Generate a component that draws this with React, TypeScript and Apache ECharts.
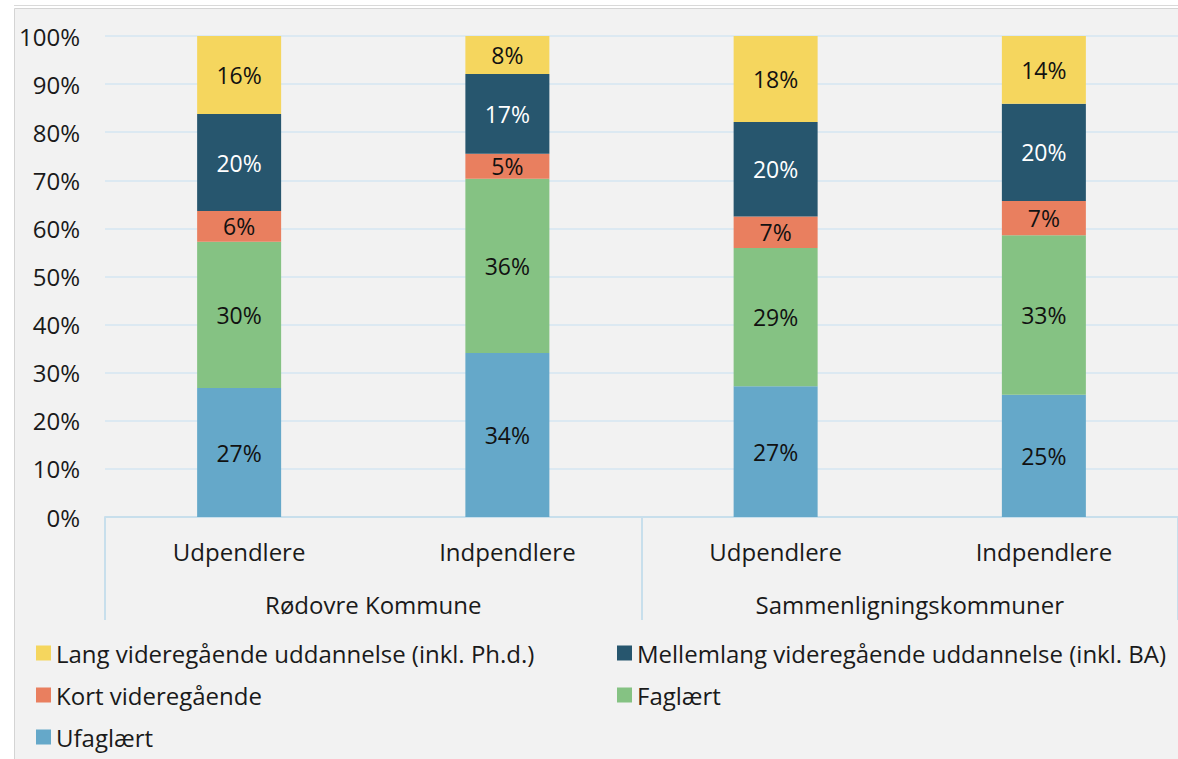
import React, { useEffect, useRef } from "react";
import * as echarts from "echarts";

const categories = ["Udpendlere", "Indpendlere", "Udpendlere", "Indpendlere"];
const groups = ["Rødovre Kommune", "Sammenligningskommuner"];
const yTicks = [0, 10, 20, 30, 40, 50, 60, 70, 80, 90, 100];

const ufaglaert = [26.8, 34.1, 27.2, 25.4];
const faglaert = [30.4, 36.2, 28.7, 33.2];
const kort = [6.4, 5.2, 6.6, 7.1];
const mellemlang = [20.2, 16.6, 19.6, 20.2];
const lang = [16.2, 7.9, 17.9, 14.1];

const seriesNames = [
  "Ufaglært",
  "Faglært",
  "Kort videregående",
  "Mellemlang videregående uddannelse (inkl. BA)",
  "Lang videregående uddannelse (inkl. Ph.d.)",
];
const legendOrder = [
  "Lang videregående uddannelse (inkl. Ph.d.)",
  "Mellemlang videregående uddannelse (inkl. BA)",
  "Kort videregående",
  "Faglært",
  "Ufaglært",
];
const seriesData = [ufaglaert, faglaert, kort, mellemlang, lang];
const colors = ["#65a8c9", "#85c283", "#e97f5f", "#27566e", "#f5d65e"];
const labelColors = ["#111", "#111", "#111", "#fff", "#111"];

const FONT = "'Open Sans', 'Noto Sans', sans-serif";

export default function App() {
  const ref = useRef<HTMLDivElement>(null);
  useEffect(() => {
    if (!ref.current) return;
    const chart = echarts.init(ref.current, null, { renderer: "svg" });
    chart.setOption({
      animation: false,
      backgroundColor: "#ffffff",
      textStyle: { fontFamily: FONT },
      graphic: [
        {
          type: "rect",
          z: -10,
          silent: true,
          shape: { x: 14.5, y: 8.5, width: 1200, height: 800 },
          style: { fill: "#f2f2f2", stroke: "#d4d4d4", lineWidth: 1 },
        },
        {
          type: "line",
          z: -10,
          silent: true,
          shape: { x1: 14, y1: 5.5, x2: 1178, y2: 5.5 },
          style: { stroke: "#d9d9d9", lineWidth: 1 },
        },
      ],
      grid: { left: 105, top: 36, width: 1074, height: 481, containLabel: false },
      legend: {
        data: legendOrder,
        left: 31,
        top: 635,
        width: 1150,
        icon: "rect",
        itemWidth: 15,
        itemHeight: 15,
        itemGap: 16,
        textStyle: {
          fontFamily: FONT,
          fontSize: 24,
          color: "#1a1a1a",
          width: 545,
          lineHeight: 26,
        },
      },
      xAxis: [
        {
          type: "category",
          data: categories,
          position: "bottom",
          axisLine: { show: true, lineStyle: { color: "#c8dfec", width: 2 } },
          axisTick: { show: false },
          axisLabel: {
            interval: 0,
            margin: 22,
            fontSize: 24,
            color: "#1a1a1a",
            fontFamily: FONT,
          },
        },
        {
          type: "category",
          data: groups,
          position: "bottom",
          axisLine: { show: false },
          axisTick: {
            show: true,
            length: 103,
            interval: 0,
            lineStyle: { color: "#c8dfec", width: 2 },
          },
          axisLabel: {
            interval: 0,
            margin: 75,
            fontSize: 24,
            color: "#1a1a1a",
            fontFamily: FONT,
          },
        },
      ],
      yAxis: {
        type: "value",
        min: yTicks[0],
        max: yTicks[yTicks.length - 1],
        interval: 10,
        axisLine: { show: false },
        axisTick: { show: false },
        splitLine: { lineStyle: { color: "#dce9f2", width: 2 } },
        axisLabel: {
          margin: 25,
          fontSize: 24,
          color: "#1a1a1a",
          fontFamily: FONT,
          formatter: (v: number) => `${v}%`,
        },
      },
      series: seriesNames.map((name, i) => ({
        name,
        type: "bar",
        stack: "total",
        xAxisIndex: 0,
        barWidth: 84,
        data: seriesData[i],
        itemStyle: { color: colors[i] },
        label: {
          show: true,
          position: "inside",
          fontSize: 23,
          fontFamily: FONT,
          color: labelColors[i],
          formatter: (p: any) => `${Math.round(p.value)}%`,
        },
      })),
    });
    return () => chart.dispose();
  }, []);
  return (
    <div
      ref={ref}
      style={{ position: "fixed", left: 0, top: 0, width: 1178, height: 759 }}
    />
  );
}
